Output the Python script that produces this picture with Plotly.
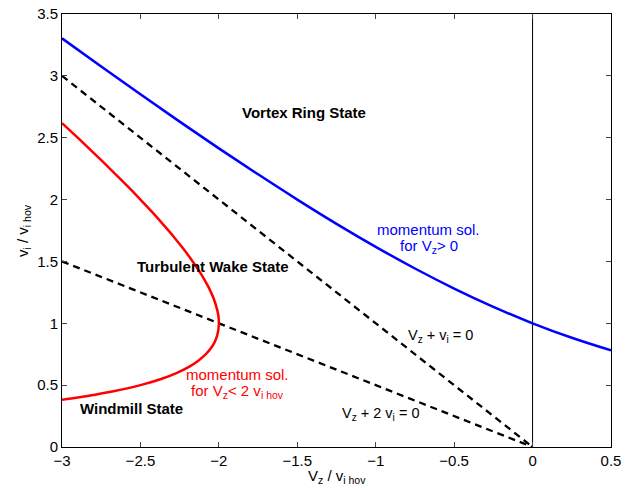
import plotly.graph_objects as go

# Data
vz_blue = [-3.0, -2.75, -2.5, -2.25, -2.0, -1.75, -1.5, -1.25, -1.0, -0.75, -0.5, -0.25, 0.0, 0.25, 0.5]
vi_blue = [3.303, 3.075, 2.851, 2.630, 2.414, 2.204, 2.0, 1.804, 1.618, 1.443, 1.281, 1.133, 1.0, 0.883, 0.781]

vi_red = [0.382, 0.4, 0.42, 0.45, 0.5, 0.55, 0.6, 0.65, 0.7, 0.75, 0.8, 0.85, 0.9, 0.95, 1.0,
          1.05, 1.1, 1.2, 1.25, 1.3, 1.4, 1.5, 1.6, 1.7, 1.8, 1.9, 2.0, 2.1, 2.2, 2.3, 2.4, 2.5, 2.618]
vz_red = [-3.0, -2.9, -2.801, -2.672, -2.5, -2.368, -2.267, -2.188, -2.129, -2.083, -2.05, -2.026, -2.011, -2.003, -2.0,
          -2.002, -2.009, -2.033, -2.05, -2.069, -2.114, -2.167, -2.225, -2.288, -2.356, -2.426, -2.5, -2.576, -2.655, -2.735, -2.817, -2.9, -3.0]

vz_line1 = [-3.0, 0.0]
vi_line1 = [3.0, 0.0]
vz_line2 = [-3.0, 0.0]
vi_line2 = [1.5, 0.0]
vz_zero = [0.0, 0.0]
vi_zero = [0.0, 3.5]

x_ticks = [-3, -2.5, -2, -1.5, -1, -0.5, 0, 0.5]
x_tick_labels = ["\u22123", "\u22122.5", "\u22122", "\u22121.5", "\u22121", "\u22120.5", "0", "0.5"]
y_ticks = [0, 0.5, 1, 1.5, 2, 2.5, 3, 3.5]
y_tick_labels = ["0", "0.5", "1", "1.5", "2", "2.5", "3", "3.5"]

FONT = "Liberation Sans, Arial, Helvetica, sans-serif"

fig = go.Figure()
fig.add_trace(go.Scatter(x=vz_zero, y=vi_zero, mode="lines", line=dict(color="black", width=1), hoverinfo="skip"))
fig.add_trace(go.Scatter(x=vz_line1, y=vi_line1, mode="lines", line=dict(color="black", width=2.3, dash="7px,5px")))
fig.add_trace(go.Scatter(x=vz_line2, y=vi_line2, mode="lines", line=dict(color="black", width=2.3, dash="7px,5px")))
fig.add_trace(go.Scatter(x=vz_blue, y=vi_blue, mode="lines", line=dict(color="#0000ff", width=2.5, shape="spline")))
fig.add_trace(go.Scatter(x=vz_red, y=vi_red, mode="lines", line=dict(color="#ff0000", width=2.5, shape="spline")))

annotations = [
    dict(x=-1.458, y=2.70, text="<b>Vortex Ring State</b>", font=dict(size=15, color="black")),
    dict(x=-2.038, y=1.463, text="<b>Turbulent Wake State</b>", font=dict(size=15, color="black")),
    dict(x=-2.56, y=0.315, text="<b>Windmill State</b>", font=dict(size=15, color="black")),
    dict(x=-0.661, y=1.755, text="momentum sol.", font=dict(size=15, color="#0000ff")),
    dict(x=-0.661, y=1.62, text="for V<sub>z</sub>> 0", font=dict(size=15, color="#0000ff")),
    dict(x=-1.878, y=0.59, text="momentum sol.", font=dict(size=15, color="#ff0000")),
    dict(x=-1.878, y=0.445, text="for V<sub>z</sub>< 2 v<sub>i hov</sub>", font=dict(size=15, color="#ff0000")),
    dict(x=-0.59, y=0.90, text="V<sub>z</sub> + v<sub>i</sub> = 0", font=dict(size=14.5, color="black")),
    dict(x=-0.967, y=0.265, text="V<sub>z</sub> + 2 v<sub>i</sub> = 0", font=dict(size=14.5, color="black")),
]
for a in annotations:
    a.update(xref="x", yref="y", showarrow=False, align="center")

annotations += [
    dict(xref="paper", yref="paper", x=0.5, y=-0.068, xanchor="center", yanchor="middle", showarrow=False,
         text="V<sub>z</sub> / v<sub>i hov</sub>", font=dict(size=15, color="black")),
    dict(xref="paper", yref="paper", x=-0.07, y=0.5, xanchor="center", yanchor="middle", showarrow=False,
         textangle=-90, text="v<sub>i</sub> / v<sub>i hov</sub>", font=dict(size=15, color="black")),
]

fig.update_layout(
    width=639, height=490,
    margin=dict(l=62, r=28, t=14, b=43),
    paper_bgcolor="white", plot_bgcolor="white",
    showlegend=False,
    font=dict(family=FONT, size=15, color="black"),
    annotations=annotations,
    xaxis=dict(range=[-3, 0.5], tickvals=x_ticks, ticktext=x_tick_labels, ticks="inside", ticklen=5,
               showline=True, linecolor="black", linewidth=1, mirror="ticks", showgrid=False, zeroline=False,
               automargin=False, tickfont=dict(size=15)),
    yaxis=dict(range=[0, 3.5], tickvals=y_ticks, ticktext=y_tick_labels, ticks="inside", ticklen=5,
               showline=True, linecolor="black", linewidth=1, mirror="ticks", showgrid=False, zeroline=False,
               automargin=False, tickfont=dict(size=15)),
)

fig.write_html("out.html")
